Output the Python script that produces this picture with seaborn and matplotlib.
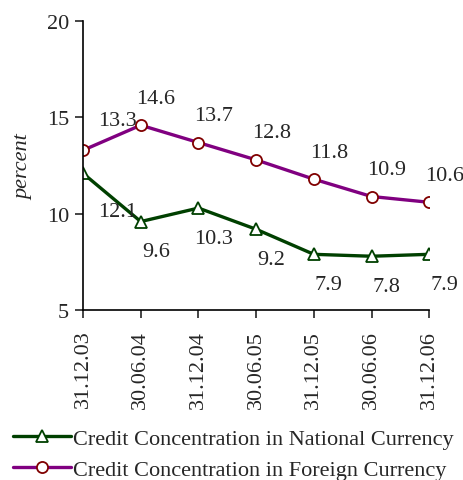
# loads the necessary libraries
import matplotlib
matplotlib.use("Agg")
import matplotlib.pyplot as plt
import seaborn as sns
import numpy as np
import pandas as pd

# data
dates = ["31.12.03", "30.06.04", "31.12.04", "30.06.05", "31.12.05", "30.06.06", "31.12.06"]
national = [12.1, 9.6, 10.3, 9.2, 7.9, 7.8, 7.9]
foreign = [13.3, 14.6, 13.7, 12.8, 11.8, 10.9, 10.6]
names = ["Credit Concentration in National Currency",
         "Credit Concentration in Foreign Currency"]

sns.set_style("ticks")
plt.rcParams['font.family'] = ['Liberation Serif', 'DejaVu Serif']
fs = 16

pos = np.arange(len(dates))
df = pd.DataFrame({"pos": pos, "national": national, "foreign": foreign})

fig = plt.figure(figsize=(4.64, 4.81), dpi=100)
ax = fig.add_axes([0.179, 0.353, 0.746, 0.601])

# plot
sns.lineplot(x="pos", y="national", data=df, ax=ax, color="#004000", lw=2.4,
             marker="^", markersize=8, markerfacecolor="white",
             markeredgecolor="#004000", markeredgewidth=1.3, label=names[0])
sns.lineplot(x="pos", y="foreign", data=df, ax=ax, color="#800080", lw=2.4,
             marker="o", markersize=8, markerfacecolor="white",
             markeredgecolor="#800000", markeredgewidth=1.3, label=names[1])

# value labels
for i, v in enumerate(national):
    dx = 35 if i == 0 else 15
    dy = -38 if i == 0 else -30
    ax.annotate(f"{v:.1f}", (pos[i], v), xytext=(dx, dy), textcoords="offset pixels",
                ha="center", va="center", fontsize=fs, annotation_clip=False)
for i, v in enumerate(foreign):
    dx = 34 if i == 0 else 15
    dy = 30 if i == 0 else 27
    ax.annotate(f"{v:.1f}", (pos[i], v), xytext=(dx, dy), textcoords="offset pixels",
                ha="center", va="center", fontsize=fs, annotation_clip=False)

ax.set_xlim(0, 6)
ax.set_ylim(5, 20)
ax.set_yticks([5, 10, 15, 20])
ax.set_xticks(pos)
ax.set_xticklabels(dates, rotation=90, fontsize=fs)
ax.tick_params(axis="y", labelsize=fs, length=6, width=1.2, direction="out", pad=4)
ax.tick_params(axis="x", length=6, width=1.2, direction="out", pad=8)
ax.set_xlabel("")
ax.set_ylabel("percent", fontstyle="italic", fontsize=fs, labelpad=10)
sns.despine(ax=ax)
for s in ["left", "bottom"]:
    ax.spines[s].set_linewidth(1.2)
    ax.spines[s].set_color("black")

ax.get_legend().remove()
h, l = ax.get_legend_handles_labels()
fig.legend(h, l, loc="upper left", bbox_to_anchor=(0.0, 0.135), frameon=False,
           fontsize=fs, handlelength=2.6, handletextpad=0.1, labelspacing=0.45,
           borderaxespad=0.2)

# saves the image
plt.savefig("out.png", dpi=100)
